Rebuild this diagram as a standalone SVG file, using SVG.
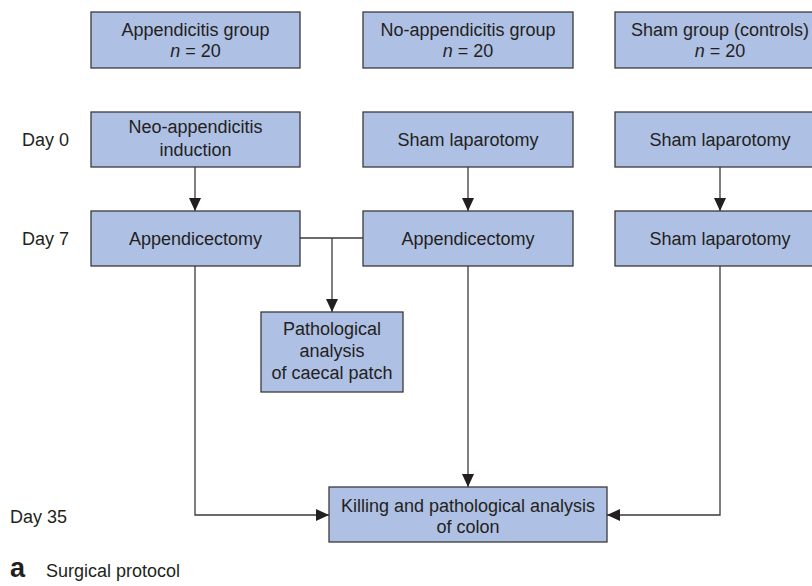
<svg xmlns="http://www.w3.org/2000/svg" width="812" height="586" viewBox="0 0 812 586">
<defs>
<style>
.box{fill:#aec0e4;stroke:#3a3a3a;stroke-width:1.3}
.t{font-family:"Liberation Sans",Arial,sans-serif;font-size:18px;fill:#231f20;text-anchor:middle}
.lbl{font-family:"Liberation Sans",Arial,sans-serif;font-size:18px;fill:#231f20}
.big{font-family:"Liberation Sans",Arial,sans-serif;font-size:27px;font-weight:bold;fill:#231f20}
.ln{fill:none;stroke:#3a3a3a;stroke-width:1.3}
</style>
<marker id="ah" viewBox="0 0 13 12" refX="13" refY="6" markerWidth="13" markerHeight="12" markerUnits="userSpaceOnUse" orient="auto">
<path d="M0,0 L13,6 L0,12 Z" fill="#231f20"/>
</marker>
</defs>
<rect width="812" height="586" fill="#ffffff"/>

<g id="connectors">
<path class="ln" d="M195,167 V211" marker-end="url(#ah)"/>
<path class="ln" d="M468,167 V211" marker-end="url(#ah)"/>
<path class="ln" d="M720,167 V211" marker-end="url(#ah)"/>
<path class="ln" d="M300,238 H363"/>
<path class="ln" d="M332,238 V312" marker-end="url(#ah)"/>
<path class="ln" d="M195,266 V515 H329" marker-end="url(#ah)"/>
<path class="ln" d="M468,266 V487" marker-end="url(#ah)"/>
<path class="ln" d="M720,266 V515 H607" marker-end="url(#ah)"/>
</g>

<g id="appendicitis-group">
<rect class="box" x="91" y="12" width="209" height="56"/>
<text class="t" x="195.5" y="36">Appendicitis group</text>
<text class="t" x="195.5" y="57"><tspan font-style="italic">n</tspan> = 20</text>
</g>
<g id="no-appendicitis-group">
<rect class="box" x="363" y="12" width="210" height="56"/>
<text class="t" x="468" y="36">No-appendicitis group</text>
<text class="t" x="468" y="57"><tspan font-style="italic">n</tspan> = 20</text>
</g>
<g id="sham-group">
<rect class="box" x="615" y="12" width="210" height="56"/>
<text class="t" x="720" y="36">Sham group (controls)</text>
<text class="t" x="720" y="57"><tspan font-style="italic">n</tspan> = 20</text>
</g>

<g id="neo-appendicitis-induction">
<rect class="box" x="91" y="112" width="209" height="55"/>
<text class="t" x="195.5" y="133">Neo-appendicitis</text>
<text class="t" x="195.5" y="156">induction</text>
</g>
<g id="sham-laparotomy-1">
<rect class="box" x="363" y="112" width="210" height="55"/>
<text class="t" x="468" y="146">Sham laparotomy</text>
</g>
<g id="sham-laparotomy-2">
<rect class="box" x="615" y="112" width="210" height="55"/>
<text class="t" x="720" y="146">Sham laparotomy</text>
</g>

<g id="appendicectomy-1">
<rect class="box" x="91" y="211" width="209" height="55"/>
<text class="t" x="195.5" y="245">Appendicectomy</text>
</g>
<g id="appendicectomy-2">
<rect class="box" x="363" y="211" width="210" height="55"/>
<text class="t" x="468" y="245">Appendicectomy</text>
</g>
<g id="sham-laparotomy-3">
<rect class="box" x="615" y="211" width="210" height="55"/>
<text class="t" x="720" y="245">Sham laparotomy</text>
</g>

<g id="pathological-analysis">
<rect class="box" x="261" y="312" width="142" height="80"/>
<text class="t" x="332" y="335">Pathological</text>
<text class="t" x="332" y="357">analysis</text>
<text class="t" x="332" y="379">of caecal patch</text>
</g>

<g id="killing">
<rect class="box" x="329" y="487" width="278" height="55"/>
<text class="t" x="468" y="512">Killing and pathological analysis</text>
<text class="t" x="468" y="533">of colon</text>
</g>

<g id="labels">
<text class="lbl" x="22" y="146">Day 0</text>
<text class="lbl" x="22" y="245">Day 7</text>
<text class="lbl" x="10" y="523">Day 35</text>
<text class="big" x="10" y="577">a</text>
<text class="lbl" x="46" y="577">Surgical protocol</text>
</g>
</svg>
